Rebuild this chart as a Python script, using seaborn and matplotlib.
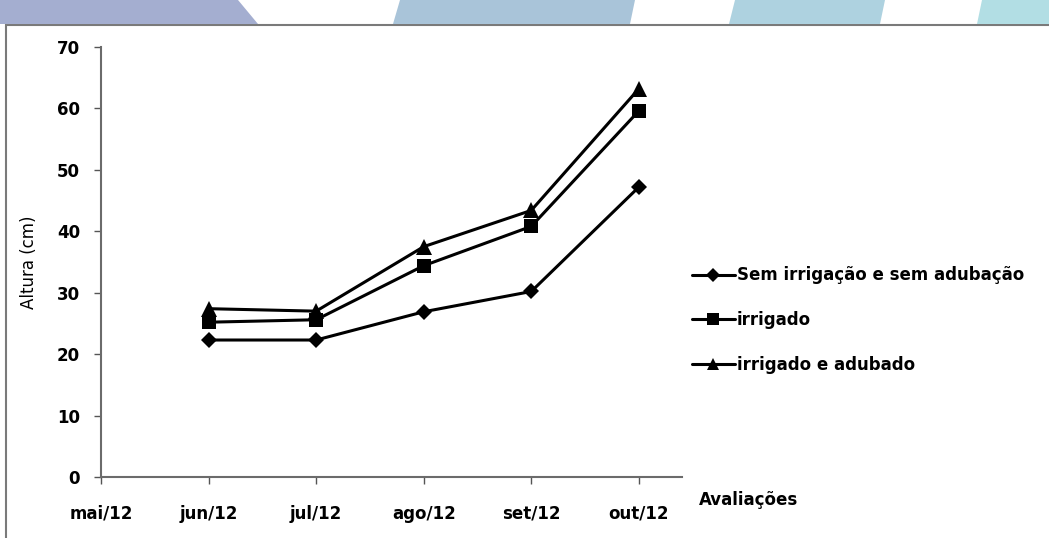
import pandas as pd
import matplotlib.pyplot as plt
import seaborn as sns
from matplotlib.patches import Polygon, Rectangle

# avaliações (mai/12 fica vazio)
meses = ['mai/12', 'jun/12', 'jul/12', 'ago/12', 'set/12', 'out/12']
sem_irrig = [22.3, 22.3, 26.9, 30.2, 47.2]
irrigado = [25.2, 25.6, 34.4, 40.8, 59.6]
irrig_adub = [27.4, 27.0, 37.5, 43.4, 63.2]
series = ['Sem irrigação e sem adubação', 'irrigado', 'irrigado e adubado']

df = pd.concat([
    pd.DataFrame({'mes': range(1, 6), 'altura': vals, 'trat': nome})
    for nome, vals in zip(series, [sem_irrig, irrigado, irrig_adub])
])

sns.set_style('white')
plt.rcParams['font.family'] = ['DejaVu Sans']
plt.rcParams['text.color'] = 'black'
plt.rcParams['xtick.color'] = 'black'
plt.rcParams['ytick.color'] = 'black'
plt.rcParams['axes.labelcolor'] = 'black'

fig = plt.figure(figsize=(10.49, 5.38), dpi=100)
ax = fig.add_axes([0.0963, 0.1134, 0.5537, 0.7992])

sns.lineplot(data=df, x='mes', y='altura', hue='trat', style='trat',
             palette=['black'] * 3, markers={series[0]: 'D', series[1]: 's', series[2]: '^'},
             dashes=False, linewidth=2.2, markersize=9, markeredgewidth=0, ax=ax)
# triângulos um pouco maiores, losangos menores
for ln, ms in zip(ax.lines, [8, 9.5, 11]):
    ln.set_markersize(ms)

ax.set_xlim(0, 5.4)
ax.set_ylim(0, 70)
ax.set_xticks(range(len(meses)))
ax.set_xticklabels(meses, fontsize=12, fontweight='bold')
ax.set_yticks(range(0, 71, 10))
ax.set_yticklabels([str(v) for v in range(0, 71, 10)], fontsize=12, fontweight='bold')
ax.tick_params(axis='both', direction='out', length=5, width=1, color='#555555',
               bottom=True, left=True)
ax.tick_params(axis='x', pad=15)
ax.tick_params(axis='y', pad=10)
sns.despine(ax=ax)
for s in ['left', 'bottom']:
    ax.spines[s].set_color('#6b6b6b')
    ax.spines[s].set_linewidth(1.5)

ax.set_xlabel('')
ax.set_ylabel('Altura (cm)', fontsize=12, labelpad=14)
ax.text(1.03, -0.053, 'Avaliações', transform=ax.transAxes, fontsize=12,
        fontweight='bold', va='center', ha='left')

h, l = ax.get_legend_handles_labels()
leg = ax.legend(h, l, loc='center left', bbox_to_anchor=(0.645, 0.405), bbox_transform=fig.transFigure,
                frameon=False, handlelength=2.6, handletextpad=0.1, labelspacing=1.6,
                prop={'size': 12, 'weight': 'bold'})
for lh, ms in zip(leg.legend_handles, [7, 9, 9]):
    lh.set_markersize(ms)

# moldura e faixa decorativa no topo
fig.patches.append(Rectangle((6 / 1049, -0.05), 1.1, 1 - 25 / 538 + 0.05, transform=fig.transFigure,
                             fill=False, edgecolor='#7a7a7a', linewidth=1.5))
faixas = [
    ([(0, 1), (238 / 1049, 1), (258 / 1049, 1 - 24 / 538), (0, 1 - 24 / 538)], '#a4aed0'),
    ([(400 / 1049, 1), (635 / 1049, 1), (630 / 1049, 1 - 24 / 538), (393 / 1049, 1 - 24 / 538)], '#a9c4d9'),
    ([(735 / 1049, 1), (885 / 1049, 1), (880 / 1049, 1 - 24 / 538), (729 / 1049, 1 - 24 / 538)], '#aed2e0'),
    ([(982 / 1049, 1), (1.0, 1), (1.0, 1 - 24 / 538), (977 / 1049, 1 - 24 / 538)], '#b2dee4'),
]
for pts, cor in faixas:
    fig.patches.append(Polygon(pts, closed=True, transform=fig.transFigure,
                               facecolor=cor, edgecolor='none'))

fig.savefig('out.png', dpi=100)
